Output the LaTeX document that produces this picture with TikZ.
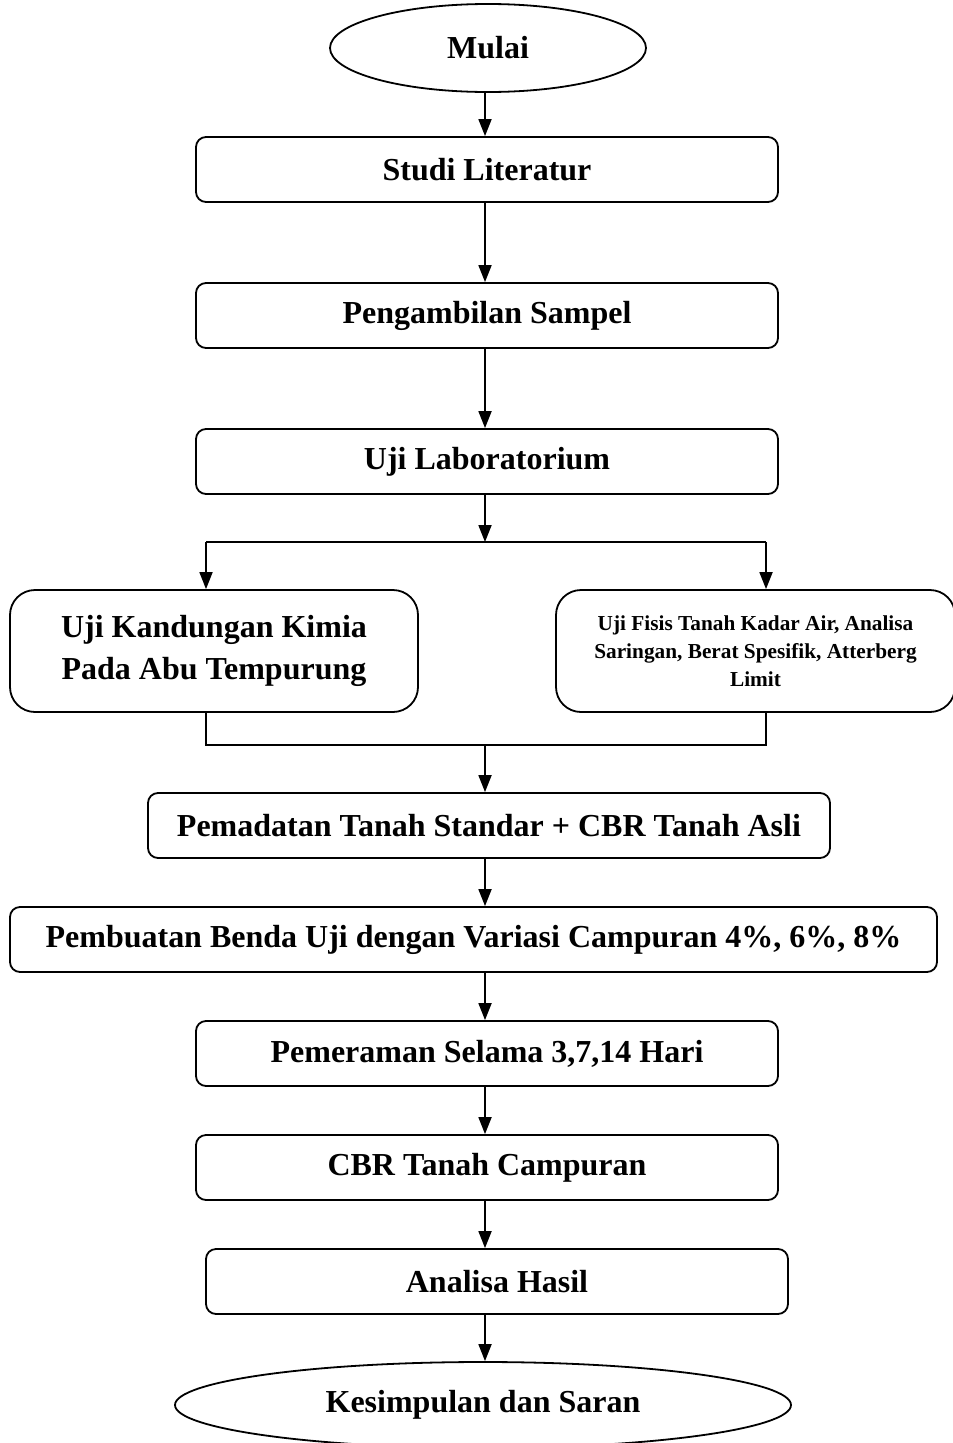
\documentclass[tikz,border=0pt]{standalone}
\usepackage{fontspec}
\setmainfont{Liberation Serif}
\usetikzlibrary{shapes.geometric,arrows.meta}
\begin{document}
\begin{tikzpicture}[x=1pt,y=-1pt,
  big/.style={font=\fontsize{32}{42}\selectfont\bfseries},
  box/.style={draw, line width=1.8pt, rounded corners=10pt, minimum height=65pt,
    inner sep=0pt, big},
  wide/.style={draw, line width=1.8pt, rounded corners=25pt, minimum height=122pt,
    inner sep=0pt, align=center},
  term/.style={draw, ellipse, line width=1.8pt, inner sep=0pt, big},
  arr/.style={-{Triangle[length=17pt,width=13pt]}, line width=1.8pt},
  ln/.style={line width=1.8pt}]
\useasboundingbox (0,0) rectangle (953,1443);
\clip (0,0) rectangle (953,1443);
\fill[white] (0,0) rectangle (953,1443);

% spine of the chart and the two branch columns
\coordinate (axis) at (485,0);
\coordinate (lx) at (206,0);
\coordinate (rx) at (766,0);
\coordinate (split) at (485,542);
\coordinate (splitL) at (206,542);
\coordinate (splitR) at (766,542);
\coordinate (joinL) at (206,745);
\coordinate (joinR) at (766,745);
\coordinate (join) at (485,745);

% steps
\node[term, minimum width=316pt, minimum height=88pt] (start) at (488,48) {Mulai};
\node[box, minimum width=582pt] (s1) at (487,169.5) {Studi Literatur};
\node[box, minimum width=582pt] (s2) at (487,315.5) {Pengambilan Sampel};
\node[box, minimum width=582pt] (s3) at (487,461.5) {Uji Laboratorium};
\node[wide, minimum width=408pt, font=\fontsize{32}{42}\selectfont\bfseries]
  (kimia) at (214,651) {Uji Kandungan Kimia\\Pada Abu Tempurung};
\node[wide, minimum width=399pt, font=\fontsize{21.3}{28}\selectfont\bfseries]
  (fisis) at (755.5,651) {Uji Fisis Tanah Kadar Air, Analisa\\Saringan, Berat Spesifik, Atterberg\\Limit};
\node[box, minimum width=682pt] (s4) at (489,825.5) {Pemadatan Tanah Standar + CBR Tanah Asli};
\node[box, minimum width=927pt] (s5) at (473.5,939.5) {Pembuatan Benda Uji dengan Variasi Campuran 4\%, 6\%, 8\%};
\node[box, minimum width=582pt] (s6) at (487,1053.5) {Pemeraman Selama 3,7,14 Hari};
\node[box, minimum width=582pt] (s7) at (487,1167.5) {CBR Tanah Campuran};
\node[box, minimum width=582pt] (s8) at (497,1281.5) {Analisa Hasil};
\node[term, minimum width=616pt, minimum height=86pt] (stop) at (483,1405) {Kesimpulan dan Saran};

% connectors
\draw[arr] (start.south -| axis) -- (s1.north -| axis);
\draw[arr] (s1.south -| axis) -- (s2.north -| axis);
\draw[arr] (s2.south -| axis) -- (s3.north -| axis);
\draw[arr] (s3.south -| axis) -- (split);
\draw[ln] (splitL) -- (splitR);
\draw[arr] (splitL) -- (kimia.north -| lx);
\draw[arr] (splitR) -- (fisis.north -| rx);
\draw[ln] (kimia.south -| lx) -- (joinL) -- (joinR) -- (fisis.south -| rx);
\draw[arr] (join) -- (s4.north -| axis);
\draw[arr] (s4.south -| axis) -- (s5.north -| axis);
\draw[arr] (s5.south -| axis) -- (s6.north -| axis);
\draw[arr] (s6.south -| axis) -- (s7.north -| axis);
\draw[arr] (s7.south -| axis) -- (s8.north -| axis);
\draw[arr] (s8.south -| axis) -- (stop.north -| axis);
\end{tikzpicture}
\end{document}
